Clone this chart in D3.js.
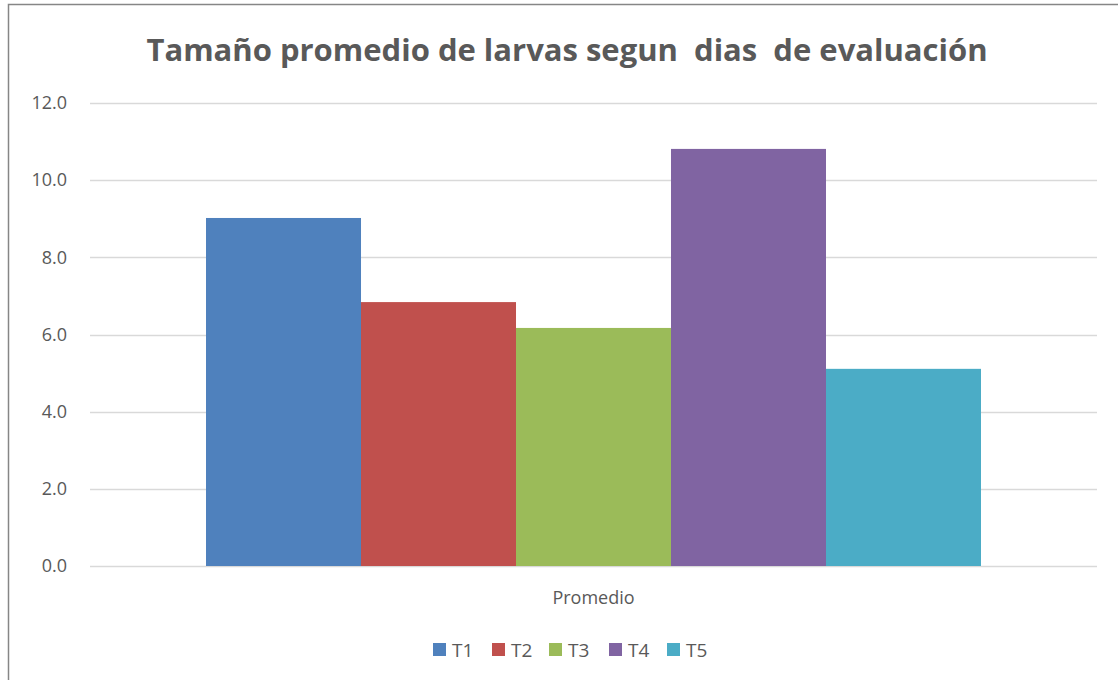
<!DOCTYPE html>
<html><head><meta charset="utf-8">
<script src="https://cdn.jsdelivr.net/npm/d3@7"></script>
<style>body{margin:0;background:#fff;} svg{display:block;}</style>
</head><body>
<svg id="chart" width="1118" height="680"></svg>
<script>
const categories = ["Promedio"];
const series = ["T1", "T2", "T3", "T4", "T5"];
const values = [9.02, 6.84, 6.17, 10.81, 5.11];
const colors = ["#4f81bd", "#c0504d", "#9bbb59", "#8064a2", "#4bacc6"];
const yTicks = [0, 2, 4, 6, 8, 10, 12];
const title = "Tamaño promedio de larvas segun  dias  de evaluación";

const svg = d3.select("#chart");
const font = "'Open Sans', 'Liberation Sans', sans-serif";
const textColor = "#595959";

svg.append("rect").attr("x", 8.5).attr("y", 4.5).attr("width", 1200).attr("height", 800)
  .attr("fill", "#fff").attr("stroke", "#868686").attr("stroke-width", 1.5);

const plot = {left: 90, right: 1097, top: 103, bottom: 566};
const y = d3.scaleLinear().domain([0, 12]).range([plot.bottom, plot.top]);
const x0 = d3.scaleBand().domain(categories).range([plot.left, plot.right]).paddingInner(0).paddingOuter(0.1497);
const x1 = d3.scaleBand().domain(series).range([0, x0.bandwidth()]).padding(0);

// gridlines
svg.append("g").selectAll("line").data(yTicks).join("line")
  .attr("x1", plot.left).attr("x2", plot.right)
  .attr("y1", d => Math.round(y(d)) + 0.5).attr("y2", d => Math.round(y(d)) + 0.5)
  .attr("stroke", "#d9d9d9").attr("stroke-width", 1.5);

// y axis labels
const yAxis = d3.axisLeft(y).tickValues(yTicks).tickFormat(d3.format(".1f")).tickSize(0).tickPadding(0);
const ga = svg.append("g").attr("transform", `translate(67,0)`).call(yAxis);
ga.select(".domain").remove();
ga.selectAll("text").attr("fill", textColor).style("font-family", font).style("font-size", "18px");

// bars
const g = svg.append("g");
categories.forEach(cat => {
  g.selectAll("rect.bar").data(series.map((s, i) => ({s, v: values[i], c: colors[i]}))).join("rect")
    .attr("class", "bar")
    .attr("x", d => x0(cat) + x1(d.s))
    .attr("width", x1.bandwidth())
    .attr("y", d => y(d.v))
    .attr("height", d => y(0) - y(d.v))
    .attr("fill", d => d.c);
});

// x axis label
const xAxis = d3.axisBottom(x0).tickSize(0).tickPadding(0);
const gx = svg.append("g").attr("transform", `translate(0,${plot.bottom + 25})`).call(xAxis);
gx.select(".domain").remove();
gx.selectAll("text").attr("fill", textColor).style("font-family", font).style("font-size", "18px");

// title
svg.append("text").attr("x", 567).attr("y", 61).attr("text-anchor", "middle")
  .attr("fill", textColor).style("font-family", font).style("font-weight", "bold").style("font-size", "31px")
  .style("white-space", "pre")
  .text(title);

// legend
const legendX = [433, 492, 549, 609, 667];
const lg = svg.append("g");
series.forEach((s, i) => {
  lg.append("rect").attr("x", legendX[i]).attr("y", 643).attr("width", 13).attr("height", 13).attr("fill", colors[i]);
  lg.append("text").attr("x", legendX[i] + 19).attr("y", 657).attr("fill", textColor)
    .style("font-family", font).style("font-size", "19px").text(s);
});
</script>
</body></html>
